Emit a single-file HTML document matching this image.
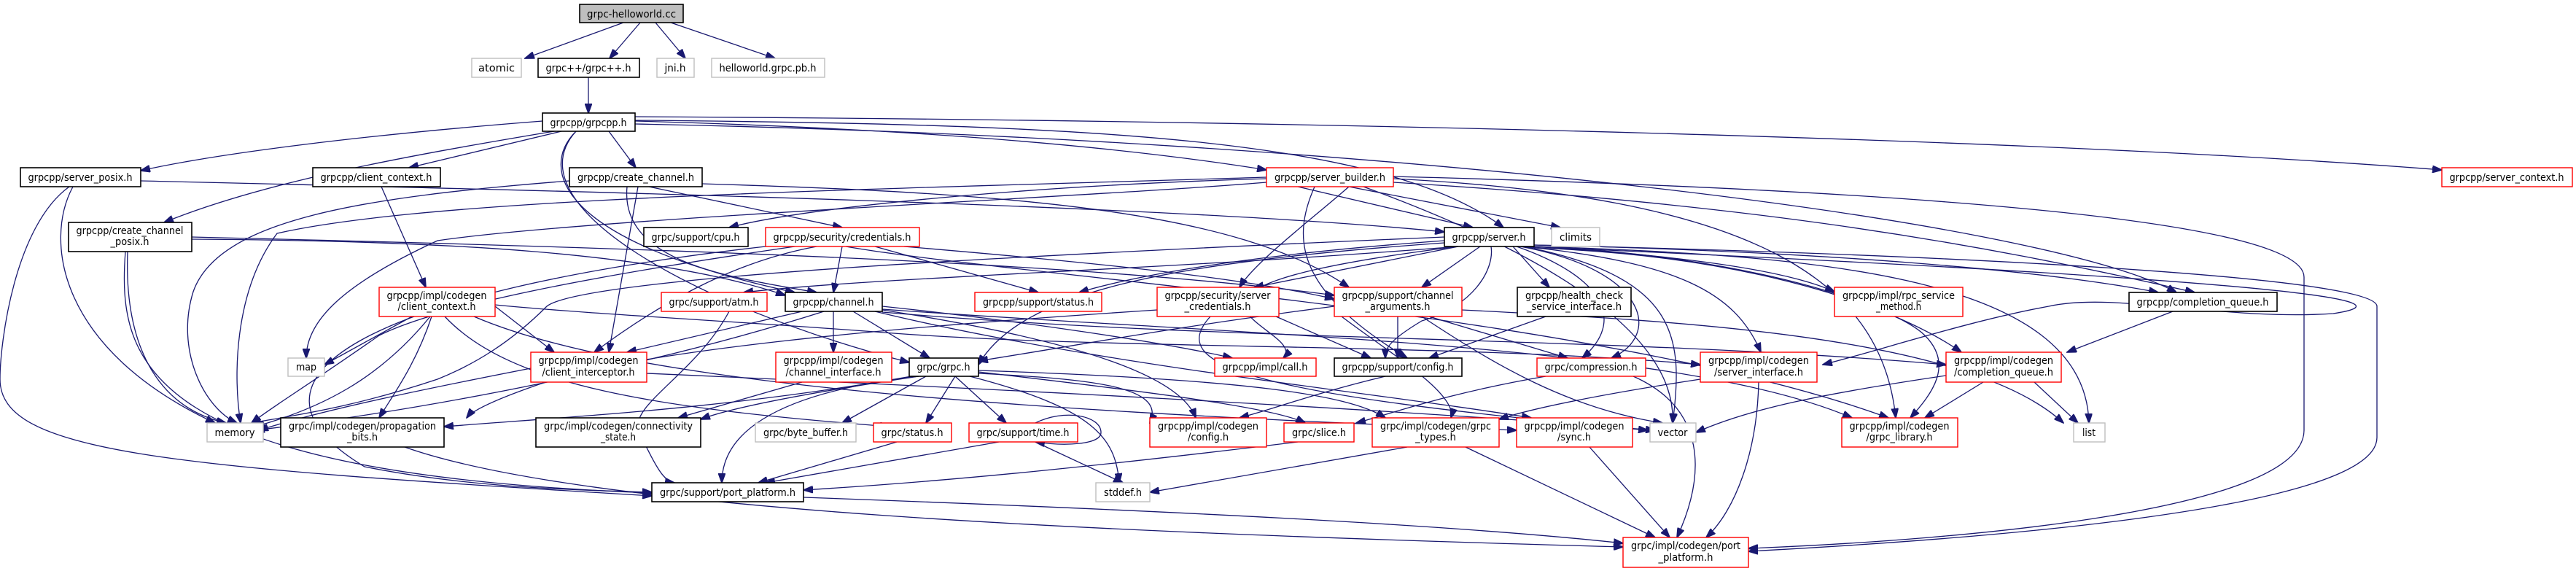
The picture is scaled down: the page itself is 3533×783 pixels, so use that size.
<!DOCTYPE html>
<html><head><meta charset="utf-8"><style>
html,body{margin:0;padding:0;background:#fff;}
svg{display:block;}
text{font-family:"DejaVu Sans Condensed","Liberation Sans Narrow","Liberation Sans",sans-serif;font-size:14px;fill:#000;text-anchor:middle;}
.e{fill:none;stroke:#191970;stroke-width:1.3;marker-end:url(#a);}
.b{fill:#fff;stroke:#000;stroke-width:1.6;}
.r{fill:#fff;stroke:#ff0000;stroke-width:1.4;}
.g{fill:#fff;stroke:#bfbfbf;stroke-width:1.4;}
</style></head><body>
<svg width="3533" height="783" viewBox="0 0 3533 783" xmlns="http://www.w3.org/2000/svg">
<defs><marker id="a" markerUnits="userSpaceOnUse" markerWidth="14" markerHeight="10" refX="13" refY="5" orient="auto"><path d="M0,0 L14,5 L0,10 z" fill="#191970" stroke="#191970"/></marker></defs>
<rect width="3533" height="783" fill="#fff"/>
<g>
<!-- top -->
<path class="e" d="M855,31 L720,80"/>
<path class="e" d="M878,31 L836,80"/>
<path class="e" d="M899,31 L940,80"/>
<path class="e" d="M920,31 L1063,80"/>
<path class="e" d="M807,106 L807,155"/>
<!-- grpcpp.h -->
<path class="e" d="M744,166 C500,185 300,210 193,234"/>
<path class="e" d="M770,180 L561,230"/>
<path class="e" d="M835,180 L872,230"/>
<path class="e" d="M760,180 C550,215 360,250 225,305"/>
<path class="e" d="M871,166 C1200,175 1500,195 1737,233"/>
<path class="e" d="M871,160 C1800,165 2800,190 3349,233"/>
<path class="e" d="M871,165 C1500,170 1900,190 2062,312"/>
<path class="e" d="M790,180 C740,230 760,330 1090,401"/>
<path class="e" d="M790,180 C700,280 950,420 1247,497"/>
<path class="e" d="M871,170 C1900,190 2800,300 2985,401"/>
<!-- server_posix -->
<path class="e" d="M100,256 C60,330 80,480 295,580"/>
<path class="e" d="M95,256 C20,310 0,470 0,520 C0,620 220,640 894,680"/>
<path class="e" d="M193,248 C700,260 1600,280 1981,318"/>
<!-- client_context -->
<path class="e" d="M523,256 L584,394"/>
<!-- create_channel_posix -->
<path class="e" d="M175,345 C170,480 220,560 310,580"/>
<path class="e" d="M172,345 C160,500 200,650 894,676"/>
<path class="e" d="M263,328 C600,330 900,345 1077,405"/>
<path class="e" d="M263,325 C900,340 1500,360 1830,405"/>
<!-- create_channel -->
<path class="e" d="M890,256 L1155,312"/>
<path class="e" d="M875,256 L835,483"/>
<path class="e" d="M860,256 C850,360 1000,380 1120,401"/>
<path class="e" d="M963,252 C1400,265 1700,290 1850,394"/>
<path class="e" d="M781,248 C500,270 300,300 265,400 C240,480 280,560 325,580"/>
<!-- server_builder -->
<path class="e" d="M1780,256 L2020,312"/>
<path class="e" d="M1850,256 L2140,312"/>
<path class="e" d="M1737,245 C1400,255 1100,285 1000,312"/>
<path class="e" d="M1737,243 C1200,260 600,270 380,320 C320,400 320,520 330,580"/>
<path class="e" d="M1737,250 C1500,270 800,300 600,330 C470,390 420,440 420,491"/>
<path class="e" d="M1870,256 C2100,340 2300,450 2294,580"/>
<path class="e" d="M1803,256 C1770,330 1780,400 1930,491"/>
<path class="e" d="M1911,245 C2400,270 2580,380 2600,573"/>
<path class="e" d="M1911,250 C2400,280 2700,330 3010,401"/>
<path class="e" d="M1911,242 C2600,260 3160,300 3160,380 L3160,590 C3160,700 2700,740 2398,752"/>
<path class="e" d="M1850,256 C1800,300 1720,360 1700,394"/>
<!-- credentials -->
<path class="e" d="M1155,338 L1143,401"/>
<path class="e" d="M1200,338 L1424,401"/>
<path class="e" d="M1240,338 C1500,360 1700,380 1830,410"/>
<path class="e" d="M1120,338 C1000,360 900,420 815,483"/>
<path class="e" d="M1090,338 C800,380 600,420 520,460 C420,530 370,560 345,580"/>
<path class="e" d="M1160,338 C1400,380 2200,430 2590,573"/>
<path class="e" d="M1050,338 C500,400 300,520 500,640 C650,670 800,672 894,675"/>
<!-- server.h -->
<path class="e" d="M2000,338 C1600,370 1200,380 1020,401"/>
<path class="e" d="M1981,330 C1700,350 1550,380 1480,401"/>
<path class="e" d="M2000,338 L1720,394"/>
<path class="e" d="M2030,338 L1950,394"/>
<path class="e" d="M2075,338 L2125,394"/>
<path class="e" d="M2080,338 C2200,380 2230,440 2170,491"/>
<path class="e" d="M2085,338 C2260,370 2280,460 2210,491"/>
<path class="e" d="M2090,338 C2300,360 2380,400 2415,483"/>
<path class="e" d="M2104,338 C2300,350 2450,370 2516,400"/>
<path class="e" d="M2104,336 C2500,345 2800,370 2960,401"/>
<path class="e" d="M2104,340 C2400,350 2600,420 2690,483"/>
<path class="e" d="M2104,338 C2400,350 2600,420 2640,460 C2680,500 2650,540 2620,573"/>
<path class="e" d="M2090,338 C2300,380 2310,460 2294,580"/>
<path class="e" d="M2104,338 C2500,350 2860,380 2865,580"/>
<path class="e" d="M2045,338 C2050,370 2020,420 1950,440 C1900,470 1900,480 1900,491"/>
<path class="e" d="M2000,338 C1500,400 1800,450 1760,491"/>
<path class="e" d="M1981,325 C1400,350 800,380 750,420 C700,470 650,500 600,520 C480,560 400,570 345,580"/>
<path class="e" d="M1981,333 C1600,360 1400,400 1342,500"/>
<path class="e" d="M2104,336 C2700,350 3260,380 3260,420 L3260,600 C3260,700 2700,740 2398,756"/>
<path class="e" d="M2090,338 C2600,360 3400,400 3200,430 C3050,440 2900,400 2810,420 C2700,440 2580,480 2500,500"/>
<!-- impl client_context -->
<path class="e" d="M565,434 L445,500"/>
<path class="e" d="M590,434 C520,520 440,560 350,585"/>
<path class="e" d="M592,434 C570,500 540,540 520,573"/>
<path class="e" d="M679,418 C800,430 1000,440 1200,455 C1500,480 2000,470 2332,500"/>
<path class="e" d="M610,434 C700,530 900,560 1220,585"/>
<path class="e" d="M650,434 C850,520 1300,560 2080,590"/>
<path class="e" d="M679,420 L760,483"/>
<!-- atm -->
<path class="e" d="M1000,427 C950,520 850,560 880,600 C900,640 910,660 925,662"/>
<!-- channel.h -->
<path class="e" d="M1100,427 L860,483"/>
<path class="e" d="M1143,427 L1143,483"/>
<path class="e" d="M1170,427 L1275,491"/>
<path class="e" d="M1130,427 C900,500 600,560 350,590"/>
<path class="e" d="M1210,420 C1400,440 1600,470 1690,491"/>
<path class="e" d="M1210,425 C1500,470 1620,520 1640,573"/>
<path class="e" d="M1210,428 C1700,470 2200,460 2669,500"/>
<path class="e" d="M1200,427 C1500,500 1900,540 2100,573"/>
<path class="e" d="M1210,424 C1700,460 2300,470 2540,573"/>
<!-- client_interceptor -->
<path class="e" d="M728,505 C600,530 450,560 355,590"/>
<path class="e" d="M887,512 C1300,530 1900,560 2270,590"/>
<!-- channel_interface -->
<path class="e" d="M1100,524 L930,573"/>
<!-- channel_arguments -->
<path class="e" d="M1917,434 L1917,491"/>
<path class="e" d="M1830,420 C1600,450 1500,470 1342,495"/>
<path class="e" d="M1960,434 L2150,491"/>
<path class="e" d="M1950,434 C2050,500 2150,560 2280,580"/>
<path class="e" d="M2005,425 C2300,440 2700,460 2830,580"/>
<path class="e" d="M1840,434 C1900,480 2000,540 1990,573"/>
<!-- server_credentials -->
<path class="e" d="M1750,434 L1880,491"/>
<path class="e" d="M1660,434 C1600,500 1700,540 2260,590"/>
<path class="e" d="M1587,425 C1200,450 900,480 760,520 C700,540 650,560 640,573"/>
<!-- health -->
<path class="e" d="M2120,434 L1960,491"/>
<!-- config.h -->
<path class="e" d="M1900,516 C1800,540 1750,560 1700,573"/>
<!-- compression -->
<path class="e" d="M2240,516 C2340,560 2340,650 2300,737"/>
<path class="e" d="M2120,516 C1980,540 1900,570 1860,580"/>
<!-- server_interface -->
<path class="e" d="M2412,524 C2410,620 2380,700 2340,737"/>
<path class="e" d="M2332,520 C2200,540 2100,560 2056,575"/>
<!-- grpcpp completion queue -->
<path class="e" d="M2980,427 L2835,483"/>
<!-- impl completion queue -->
<path class="e" d="M2720,524 L2640,573"/>
<path class="e" d="M2790,524 L2850,580"/>
<path class="e" d="M2669,515 C2500,540 2400,560 2326,593"/>
<!-- grpc.h -->
<path class="e" d="M1270,516 L1155,580"/>
<path class="e" d="M1310,516 L1270,580"/>
<path class="e" d="M1310,516 L1380,580"/>
<path class="e" d="M1330,516 C1500,560 1530,600 1535,662"/>
<path class="e" d="M1342,510 C1600,540 1750,560 1790,580"/>
<path class="e" d="M1342,512 C1500,520 1600,530 1577,580"/>
<path class="e" d="M1342,508 C1700,520 1850,540 1900,573"/>
<path class="e" d="M1260,516 C1100,540 1000,560 961,575"/>
<path class="e" d="M1250,516 C1000,560 800,570 609,585"/>
<path class="e" d="M1260,516 C1050,540 990,600 990,662"/>
<!-- leaves -->
<path class="e" d="M1230,606 L1040,662"/>
<path class="e" d="M1370,606 L1050,662"/>
<path class="e" d="M1420,606 L1540,662"/>
<path class="e" d="M1780,606 C1500,640 1300,660 1102,672"/>
<path class="e" d="M1930,613 L1577,675"/>
<path class="e" d="M2010,613 L2270,737"/>
<path class="e" d="M2180,613 L2290,737"/>
<path class="e" d="M555,613 C800,700 1500,730 2226,750"/>
<path class="e" d="M1102,682 C1600,700 2000,720 2226,745"/>
<path class="e" d="M1420,580 C1460,560 1510,570 1510,593 C1510,610 1460,612 1420,606"/>
</g>
<!-- nodes -->
<g>
<rect x="795" y="6" width="142" height="25" fill="#bfbfbf" stroke="#000" stroke-width="1.6"/><text x="866" y="24" textLength="122" lengthAdjust="spacingAndGlyphs">grpc-helloworld.cc</text>
<rect class="g" x="647" y="80" width="68" height="26"/><text x="681" y="98" textLength="50" lengthAdjust="spacingAndGlyphs">atomic</text>
<rect class="b" x="738" y="80" width="139" height="26"/><text x="807" y="98" textLength="117" lengthAdjust="spacingAndGlyphs">grpc++/grpc++.h</text>
<rect class="g" x="901" y="80" width="51" height="26"/><text x="926" y="98" textLength="29" lengthAdjust="spacingAndGlyphs">jni.h</text>
<rect class="g" x="976" y="80" width="155" height="26"/><text x="1053" y="98" textLength="133" lengthAdjust="spacingAndGlyphs">helloworld.grpc.pb.h</text>
<rect class="b" x="744" y="155" width="127" height="25"/><text x="807" y="173" textLength="105" lengthAdjust="spacingAndGlyphs">grpcpp/grpcpp.h</text>
<rect class="b" x="28" y="230" width="165" height="26"/><text x="110" y="248" textLength="143" lengthAdjust="spacingAndGlyphs">grpcpp/server_posix.h</text>
<rect class="b" x="429" y="230" width="175" height="26"/><text x="516" y="248" textLength="153" lengthAdjust="spacingAndGlyphs">grpcpp/client_context.h</text>
<rect class="b" x="781" y="230" width="182" height="26"/><text x="872" y="248" textLength="160" lengthAdjust="spacingAndGlyphs">grpcpp/create_channel.h</text>
<rect class="r" x="1737" y="230" width="174" height="26"/><text x="1824" y="248" textLength="152" lengthAdjust="spacingAndGlyphs">grpcpp/server_builder.h</text>
<rect class="r" x="3349" y="230" width="179" height="26"/><text x="3438" y="248" textLength="157" lengthAdjust="spacingAndGlyphs">grpcpp/server_context.h</text>
<rect class="b" x="94" y="305" width="169" height="40"/><text x="178" y="321" textLength="147" lengthAdjust="spacingAndGlyphs">grpcpp/create_channel</text><text x="178" y="336" textLength="53" lengthAdjust="spacingAndGlyphs">_posix.h</text>
<rect class="b" x="883" y="312" width="143" height="26"/><text x="954" y="330" textLength="121" lengthAdjust="spacingAndGlyphs">grpc/support/cpu.h</text>
<rect class="r" x="1050" y="312" width="211" height="26"/><text x="1155" y="330" textLength="189" lengthAdjust="spacingAndGlyphs">grpcpp/security/credentials.h</text>
<rect class="b" x="1981" y="312" width="123" height="26"/><text x="2042" y="330" textLength="101" lengthAdjust="spacingAndGlyphs">grpcpp/server.h</text>
<rect class="g" x="2128" y="312" width="66" height="26"/><text x="2161" y="330" textLength="44" lengthAdjust="spacingAndGlyphs">climits</text>
<rect class="r" x="520" y="394" width="159" height="40"/><text x="599" y="410" textLength="137" lengthAdjust="spacingAndGlyphs">grpcpp/impl/codegen</text><text x="599" y="425" textLength="107" lengthAdjust="spacingAndGlyphs">/client_context.h</text>
<rect class="r" x="907" y="401" width="145" height="26"/><text x="979" y="419" textLength="123" lengthAdjust="spacingAndGlyphs">grpc/support/atm.h</text>
<rect class="b" x="1077" y="401" width="133" height="26"/><text x="1143" y="419" textLength="111" lengthAdjust="spacingAndGlyphs">grpcpp/channel.h</text>
<rect class="r" x="1337" y="401" width="174" height="26"/><text x="1424" y="419" textLength="152" lengthAdjust="spacingAndGlyphs">grpcpp/support/status.h</text>
<rect class="r" x="1587" y="394" width="167" height="40"/><text x="1670" y="410" textLength="145" lengthAdjust="spacingAndGlyphs">grpcpp/security/server</text><text x="1670" y="425" textLength="91" lengthAdjust="spacingAndGlyphs">_credentials.h</text>
<rect class="r" x="1830" y="394" width="175" height="40"/><text x="1917" y="410" textLength="153" lengthAdjust="spacingAndGlyphs">grpcpp/support/channel</text><text x="1917" y="425" textLength="89" lengthAdjust="spacingAndGlyphs">_arguments.h</text>
<rect class="b" x="2081" y="394" width="156" height="40"/><text x="2159" y="410" textLength="134" lengthAdjust="spacingAndGlyphs">grpcpp/health_check</text><text x="2159" y="425" textLength="130" lengthAdjust="spacingAndGlyphs">_service_interface.h</text>
<rect class="r" x="2516" y="394" width="176" height="40"/><text x="2604" y="410" textLength="154" lengthAdjust="spacingAndGlyphs">grpcpp/impl/rpc_service</text><text x="2604" y="425" textLength="62" lengthAdjust="spacingAndGlyphs">_method.h</text>
<rect class="b" x="2920" y="401" width="203" height="26"/><text x="3021" y="419" textLength="181" lengthAdjust="spacingAndGlyphs">grpcpp/completion_queue.h</text>
<rect class="g" x="395" y="491" width="50" height="25"/><text x="420" y="508" textLength="28" lengthAdjust="spacingAndGlyphs">map</text>
<rect class="r" x="728" y="483" width="159" height="41"/><text x="807" y="499" textLength="137" lengthAdjust="spacingAndGlyphs">grpcpp/impl/codegen</text><text x="807" y="515" textLength="127" lengthAdjust="spacingAndGlyphs">/client_interceptor.h</text>
<rect class="r" x="1064" y="483" width="159" height="41"/><text x="1143" y="499" textLength="137" lengthAdjust="spacingAndGlyphs">grpcpp/impl/codegen</text><text x="1143" y="515" textLength="131" lengthAdjust="spacingAndGlyphs">/channel_interface.h</text>
<rect class="b" x="1247" y="491" width="95" height="25"/><text x="1294" y="508" textLength="73" lengthAdjust="spacingAndGlyphs">grpc/grpc.h</text>
<rect class="r" x="1666" y="491" width="139" height="25"/><text x="1735" y="508" textLength="117" lengthAdjust="spacingAndGlyphs">grpcpp/impl/call.h</text>
<rect class="b" x="1830" y="491" width="175" height="25"/><text x="1917" y="508" textLength="153" lengthAdjust="spacingAndGlyphs">grpcpp/support/config.h</text>
<rect class="r" x="2108" y="491" width="149" height="25"/><text x="2182" y="508" textLength="127" lengthAdjust="spacingAndGlyphs">grpc/compression.h</text>
<rect class="r" x="2332" y="483" width="160" height="41"/><text x="2412" y="499" textLength="138" lengthAdjust="spacingAndGlyphs">grpcpp/impl/codegen</text><text x="2412" y="515" textLength="122" lengthAdjust="spacingAndGlyphs">/server_interface.h</text>
<rect class="r" x="2669" y="483" width="158" height="41"/><text x="2748" y="499" textLength="136" lengthAdjust="spacingAndGlyphs">grpcpp/impl/codegen</text><text x="2748" y="515" textLength="136" lengthAdjust="spacingAndGlyphs">/completion_queue.h</text>
<rect class="g" x="284" y="580" width="77" height="26"/><text x="322" y="598" textLength="55" lengthAdjust="spacingAndGlyphs">memory</text>
<rect class="b" x="385" y="573" width="224" height="40"/><text x="497" y="589" textLength="202" lengthAdjust="spacingAndGlyphs">grpc/impl/codegen/propagation</text><text x="497" y="604" textLength="42" lengthAdjust="spacingAndGlyphs">_bits.h</text>
<rect class="b" x="735" y="573" width="226" height="40"/><text x="848" y="589" textLength="204" lengthAdjust="spacingAndGlyphs">grpc/impl/codegen/connectivity</text><text x="848" y="604" textLength="48" lengthAdjust="spacingAndGlyphs">_state.h</text>
<rect class="g" x="1036" y="580" width="138" height="26"/><text x="1105" y="598" textLength="116" lengthAdjust="spacingAndGlyphs">grpc/byte_buffer.h</text>
<rect class="r" x="1198" y="580" width="107" height="26"/><text x="1251" y="598" textLength="85" lengthAdjust="spacingAndGlyphs">grpc/status.h</text>
<rect class="r" x="1329" y="580" width="149" height="26"/><text x="1403" y="598" textLength="127" lengthAdjust="spacingAndGlyphs">grpc/support/time.h</text>
<rect class="r" x="1577" y="573" width="160" height="40"/><text x="1657" y="589" textLength="138" lengthAdjust="spacingAndGlyphs">grpcpp/impl/codegen</text><text x="1657" y="604" textLength="56" lengthAdjust="spacingAndGlyphs">/config.h</text>
<rect class="r" x="1761" y="580" width="96" height="26"/><text x="1809" y="598" textLength="74" lengthAdjust="spacingAndGlyphs">grpc/slice.h</text>
<rect class="r" x="1882" y="573" width="174" height="40"/><text x="1969" y="589" textLength="152" lengthAdjust="spacingAndGlyphs">grpc/impl/codegen/grpc</text><text x="1969" y="604" textLength="56" lengthAdjust="spacingAndGlyphs">_types.h</text>
<rect class="r" x="2080" y="573" width="159" height="40"/><text x="2159" y="589" textLength="137" lengthAdjust="spacingAndGlyphs">grpcpp/impl/codegen</text><text x="2159" y="604" textLength="46" lengthAdjust="spacingAndGlyphs">/sync.h</text>
<rect class="g" x="2263" y="580" width="63" height="26"/><text x="2294" y="598" textLength="41" lengthAdjust="spacingAndGlyphs">vector</text>
<rect class="r" x="2526" y="573" width="159" height="40"/><text x="2605" y="589" textLength="137" lengthAdjust="spacingAndGlyphs">grpcpp/impl/codegen</text><text x="2605" y="604" textLength="91" lengthAdjust="spacingAndGlyphs">/grpc_library.h</text>
<rect class="g" x="2844" y="580" width="43" height="26"/><text x="2865" y="598" textLength="18" lengthAdjust="spacingAndGlyphs">list</text>
<rect class="b" x="894" y="662" width="208" height="26"/><text x="998" y="680" textLength="186" lengthAdjust="spacingAndGlyphs">grpc/support/port_platform.h</text>
<rect class="g" x="1503" y="662" width="74" height="26"/><text x="1540" y="680" textLength="52" lengthAdjust="spacingAndGlyphs">stddef.h</text>
<rect class="r" x="2226" y="737" width="172" height="41"/><text x="2312" y="753" textLength="150" lengthAdjust="spacingAndGlyphs">grpc/impl/codegen/port</text><text x="2312" y="769" textLength="75" lengthAdjust="spacingAndGlyphs">_platform.h</text>
</g>
</svg>
</body></html>
